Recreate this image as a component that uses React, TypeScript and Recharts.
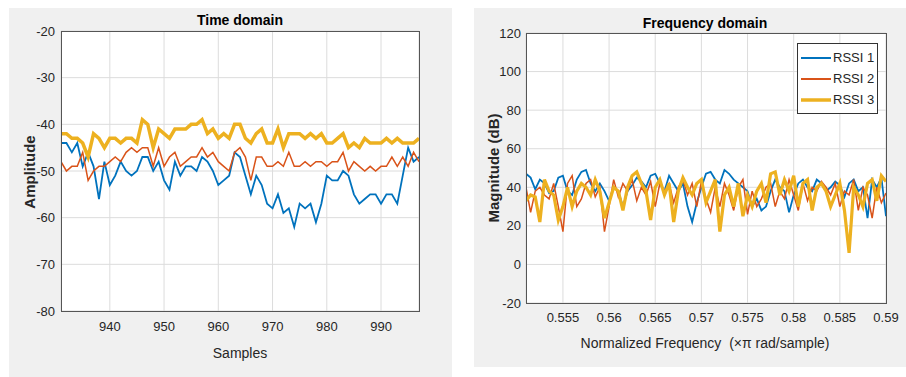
import React from 'react';
import { LineChart, Line, XAxis, YAxis, CartesianGrid, Legend } from 'recharts';

// time domain, samples 931..997
const FIRST_SAMPLE = 931;
const timeRssi1 = [
  -44, -44, -46, -44, -49, -46, -49, -56, -48, -53,
  -51, -48, -50, -51, -50, -47, -47, -50, -48, -52,
  -54, -48, -51, -49, -49, -50, -47, -48, -50, -53,
  -52, -51, -46, -47, -51, -55, -51, -53, -57, -58,
  -55, -59, -58, -62, -57, -58, -57, -61, -57, -51,
  -52, -52, -50, -51, -55, -57, -56, -55, -55, -57,
  -55, -55, -57, -51, -45, -48, -47,
];
const timeRssi2 = [
  -48, -50, -49, -49, -46, -52, -50, -49, -49, -48,
  -47, -48, -46, -45, -46, -45, -45, -49, -45, -49,
  -47, -46, -49, -48, -47, -47, -45, -47, -46, -48,
  -49, -50, -46, -45, -47, -52, -47, -47, -49, -49,
  -48, -49, -46, -49, -49, -48, -49, -48, -48, -49,
  -48, -48, -46, -50, -48, -49, -50, -49, -50, -49,
  -49, -47, -49, -47, -49, -46, -48,
];
const timeRssi3 = [
  -42, -42, -43, -43, -44, -47, -42, -43, -45, -43,
  -43, -44, -43, -43, -44, -39, -40, -45, -41, -42,
  -43, -41, -41, -41, -40, -40, -39, -42, -41, -43,
  -42, -43, -40, -40, -43, -44, -42, -41, -44, -44,
  -41, -45, -42, -42, -42, -43, -42, -43, -42, -44,
  -44, -43, -42, -45, -44, -45, -43, -44, -44, -44,
  -43, -44, -43, -44, -44, -44, -43,
];
const timeTicksX = [940, 950, 960, 970, 980, 990];
const timeTicksY = [-80, -70, -60, -50, -40, -30, -20];

// frequency domain, 0.551..0.590 step 0.0005
const FIRST_FREQ = 0.551;
const FREQ_STEP = 0.0005;
const freqRssi1 = [
  47, 45, 39, 44, 42, 37, 38, 45, 46, 38,
  36, 44, 48, 49, 42, 38, 42, 38, 33, 40,
  38, 30, 38, 41, 45, 43, 40, 46, 47, 42,
  38, 46, 42, 38, 42, 30, 22, 32, 40, 47,
  48, 44, 42, 49, 47, 44, 42, 40, 38, 30,
  34, 28, 30, 38, 44, 40, 38, 27, 36, 42,
  44, 40, 38, 44, 42, 38, 40, 43, 41, 35,
  42, 44, 38, 40, 24, 44, 40, 45, 25,
];
const freqRssi2 = [
  40, 27, 38, 40, 36, 34, 42, 30, 17, 42,
  46, 30, 34, 42, 44, 35, 40, 17, 30, 44,
  35, 42, 38, 44, 33, 40, 36, 43, 30, 42,
  38, 42, 32, 40, 44, 36, 42, 30, 43, 34,
  27, 40, 30, 42, 36, 28, 40, 44, 26, 38,
  30, 34, 40, 42, 30, 38, 34, 44, 36, 28,
  42, 33, 40, 38, 43, 40, 36, 42, 30, 38,
  36, 44, 28, 40, 36, 24, 40, 32, 37,
];
const freqRssi3 = [
  33, 36, 35, 22, 44, 38, 36, 23, 30, 40,
  30, 38, 42, 40, 36, 44, 38, 24, 32, 40,
  38, 28, 40, 46, 48, 42, 38, 23, 40, 44,
  36, 42, 22, 38, 45, 40, 36, 42, 44, 32,
  38, 44, 17, 36, 40, 30, 42, 25, 36, 30,
  38, 42, 32, 47, 48, 36, 44, 38, 46, 30,
  42, 44, 28, 40, 42, 38, 30, 36, 42, 28,
  6, 40, 36, 30, 42, 44, 33, 46, 43,
];
const freqTicksX = [0.555, 0.56, 0.565, 0.57, 0.575, 0.58, 0.585, 0.59];
const freqTicksY = [-20, 0, 20, 40, 60, 80, 100, 120];

const seriesNames = ['RSSI 1', 'RSSI 2', 'RSSI 3'];
const colors = ['#0072BD', '#D95319', '#EDB120'];

const timeData = timeRssi1.map((v, i) => ({
  sample: FIRST_SAMPLE + i,
  r1: v,
  r2: timeRssi2[i],
  r3: timeRssi3[i],
}));

const freqData = freqRssi1.map((v, i) => ({
  freq: +(FIRST_FREQ + i * FREQ_STEP).toFixed(4),
  r1: v,
  r2: freqRssi2[i],
  r3: freqRssi3[i],
}));

const FONT = '"Liberation Sans", Arial, sans-serif';
const tickStyle = { fontSize: 13, fill: '#262626', fontFamily: FONT };

const centered = (x: number, y: number, extra: React.CSSProperties = {}): React.CSSProperties => ({
  position: 'absolute',
  left: x,
  top: y,
  transform: 'translate(-50%, -50%)',
  whiteSpace: 'nowrap',
  fontFamily: FONT,
  fontSize: 14,
  color: '#262626',
  ...extra,
});

const RssiLegend = () => (
  <div
    style={{
      background: '#fff',
      border: '1px solid #333',
      padding: '3px 3px 3px 3px',
      fontFamily: FONT,
      fontSize: 13,
      color: '#262626',
    }}
  >
    {seriesNames.map((name, i) => (
      <div key={name} style={{ display: 'flex', alignItems: 'center', height: 21 }}>
        <svg width={30} height={8} style={{ marginRight: 2 }}>
          <line x1={0} y1={4} x2={30} y2={4} stroke={colors[i]} strokeWidth={i === 2 ? 3.5 : 2} />
        </svg>
        <span>{name}</span>
      </div>
    ))}
  </div>
);

const App: React.FC = () => {
  return (
    <div style={{ position: 'absolute', left: 0, top: 0, width: 906, height: 377, background: '#fff' }}>
      {/* time domain panel */}
      <div style={{ position: 'absolute', left: 9, top: 8, width: 443, height: 369, background: '#f0f0f0' }} />
      <div style={{ position: 'absolute', left: 61, top: 31, width: 358, height: 280, background: '#fff' }} />
      <div style={{ position: 'absolute', left: 9, top: 8 }}>
        <LineChart width={443} height={368} data={timeData} margin={{ top: 23, right: 33, bottom: 35, left: 12 }}>
          <CartesianGrid stroke='#dcdcdc' />
          <XAxis
            dataKey='sample'
            type='number'
            domain={[931, 997]}
            ticks={timeTicksX}
            allowDataOverflow
            axisLine={false}
            tickLine={false}
            tickSize={5}
            tickMargin={6}
            height={30}
            tick={tickStyle}
          />
          <YAxis
            type='number'
            domain={[-80, -20]}
            ticks={timeTicksY}
            axisLine={false}
            tickLine={false}
            tickSize={3}
            tickMargin={3}
            width={40}
            tick={tickStyle}
          />
          <Line dataKey='r1' stroke={colors[0]} strokeWidth={1.8} dot={false} isAnimationActive={false} />
          <Line dataKey='r2' stroke={colors[1]} strokeWidth={1.5} dot={false} isAnimationActive={false} />
          <Line dataKey='r3' stroke={colors[2]} strokeWidth={3.5} dot={false} isAnimationActive={false} />
        </LineChart>
      </div>
      <div style={{ position: 'absolute', left: 61, top: 31, width: 357, height: 279, border: '1px solid #555' }} />
      <div style={centered(240, 20, { fontWeight: 'bold', fontSize: 14, color: '#000' })}>Time domain</div>
      <div style={centered(240, 353, { fontSize: 14 })}>Samples</div>
      <div
        style={centered(29, 172, {
          fontWeight: 'bold',
          fontSize: 15,
          transform: 'translate(-50%, -50%) rotate(-90deg)',
        })}
      >
        Amplitude
      </div>

      {/* frequency domain panel */}
      <div style={{ position: 'absolute', left: 474, top: 8, width: 432, height: 359, background: '#f0f0f0' }} />
      <div style={{ position: 'absolute', left: 526, top: 33, width: 360, height: 270, background: '#fff' }} />
      <div style={{ position: 'absolute', left: 474, top: 8 }}>
        <LineChart width={432} height={359} data={freqData} margin={{ top: 25, right: 20, bottom: 34, left: 12 }}>
          <CartesianGrid stroke='#dcdcdc' />
          <XAxis
            dataKey='freq'
            type='number'
            domain={[0.551, 0.59]}
            ticks={freqTicksX}
            allowDataOverflow
            axisLine={false}
            tickLine={false}
            tickSize={5}
            tickMargin={5}
            height={30}
            tick={tickStyle}
            tickFormatter={(v: number) => String(v)}
          />
          <YAxis
            type='number'
            domain={[-20, 120]}
            ticks={freqTicksY}
            axisLine={false}
            tickLine={false}
            tickSize={3}
            tickMargin={2}
            width={40}
            tick={tickStyle}
          />
          <Legend
            layout='horizontal'
            verticalAlign='middle'
            align='center'
            content={() => <RssiLegend />}
            wrapperStyle={{ left: 323, top: 35, width: 'auto', height: 'auto' }}
          />
          <Line dataKey='r1' name={seriesNames[0]} stroke={colors[0]} strokeWidth={1.8} dot={false} isAnimationActive={false} />
          <Line dataKey='r2' name={seriesNames[1]} stroke={colors[1]} strokeWidth={1.5} dot={false} isAnimationActive={false} />
          <Line dataKey='r3' name={seriesNames[2]} stroke={colors[2]} strokeWidth={3.2} dot={false} isAnimationActive={false} />
        </LineChart>
      </div>
      <div style={{ position: 'absolute', left: 526, top: 33, width: 359, height: 269, border: '1px solid #555', pointerEvents: 'none' }} />
      <div style={centered(705, 23, { fontWeight: 'bold', fontSize: 14, color: '#000' })}>Frequency domain</div>
      <div style={centered(705, 343, { fontSize: 14 })}>Normalized Frequency&nbsp;&nbsp;(×π rad/sample)</div>
      <div
        style={centered(493, 168, {
          fontWeight: 'bold',
          fontSize: 15,
          transform: 'translate(-50%, -50%) rotate(-90deg)',
        })}
      >
        Magnitude (dB)
      </div>
    </div>
  );
};

export default App;
